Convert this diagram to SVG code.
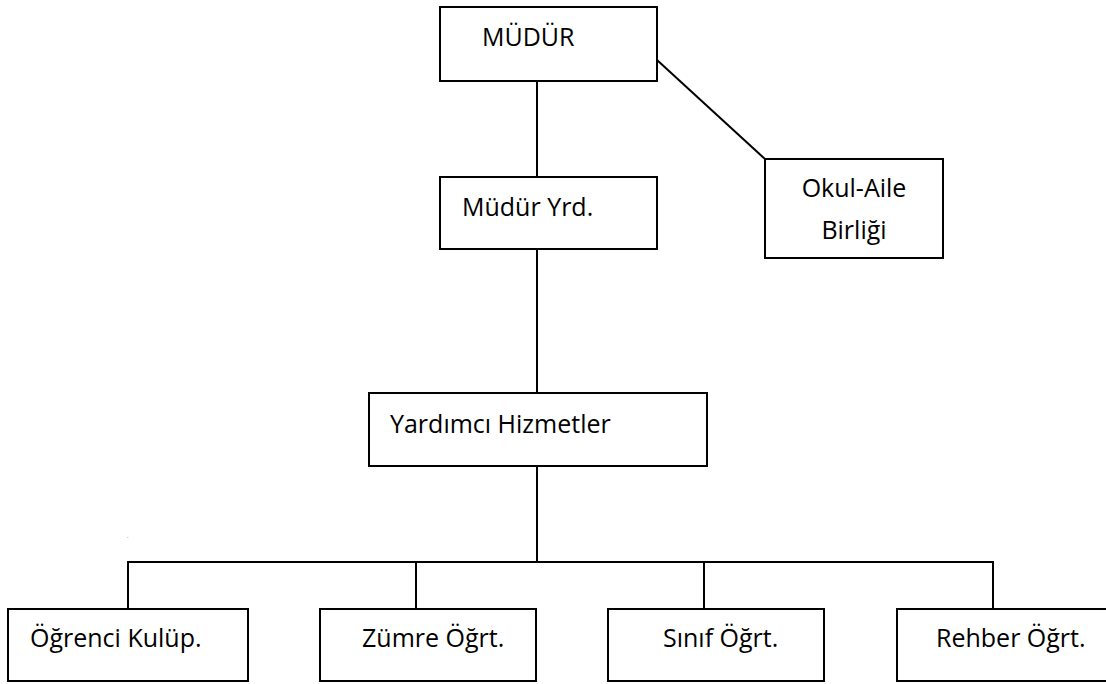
<svg xmlns="http://www.w3.org/2000/svg" width="1106" height="684" viewBox="0 0 1106 684">
<style>
.box{fill:#fff;stroke:#000;stroke-width:2}
.ln{stroke:#000;stroke-width:2;fill:none}
.t{font-family:"Open Sans","Noto Sans",sans-serif;font-size:25px;fill:#000}
.c{text-anchor:middle}
</style>
<rect width="1106" height="684" fill="#fff"/>
<g id="connectors">
<line class="ln" x1="537" y1="81" x2="537" y2="177"/>
<line class="ln" x1="657" y1="60" x2="765" y2="159"/>
<line class="ln" x1="537" y1="249" x2="537" y2="393"/>
<line class="ln" x1="537" y1="466" x2="537" y2="562"/>
<polyline class="ln" points="128,609 128,562 993,562 993,609"/>
<line class="ln" x1="416" y1="562" x2="416" y2="609"/>
<line class="ln" x1="704" y1="562" x2="704" y2="609"/>
</g>
<g id="mudur"><rect class="box" x="440" y="7" width="217" height="74"/><text class="t" x="482" y="46">MÜDÜR</text></g>
<g id="mudur-yrd"><rect class="box" x="440" y="177" width="217" height="72"/><text class="t" x="462" y="216">Müdür Yrd.</text></g>
<g id="okul-aile"><rect class="box" x="765" y="159" width="178" height="99"/><text class="t c" x="854" y="197">Okul-Aile</text><text class="t c" x="854" y="239">Birliği</text></g>
<g id="yardimci"><rect class="box" x="369" y="393" width="338" height="73"/><text class="t" x="390" y="433">Yardımcı Hizmetler</text></g>
<g id="ogrenci"><rect class="box" x="8" y="609" width="240" height="72"/><text class="t" x="30" y="647">Öğrenci Kulüp.</text></g>
<g id="zumre"><rect class="box" x="320" y="609" width="216" height="72"/><text class="t" x="362" y="647">Zümre Öğrt.</text></g>
<g id="sinif"><rect class="box" x="608" y="609" width="216" height="72"/><text class="t" x="663" y="647">Sınıf Öğrt.</text></g>
<g id="rehber"><rect class="box" x="897" y="609" width="215" height="72"/><text class="t" x="936" y="647">Rehber Öğrt.</text></g>
<text x="127" y="538" style="font-family:'Liberation Sans',sans-serif;font-size:5px;fill:#000">.</text>
</svg>
